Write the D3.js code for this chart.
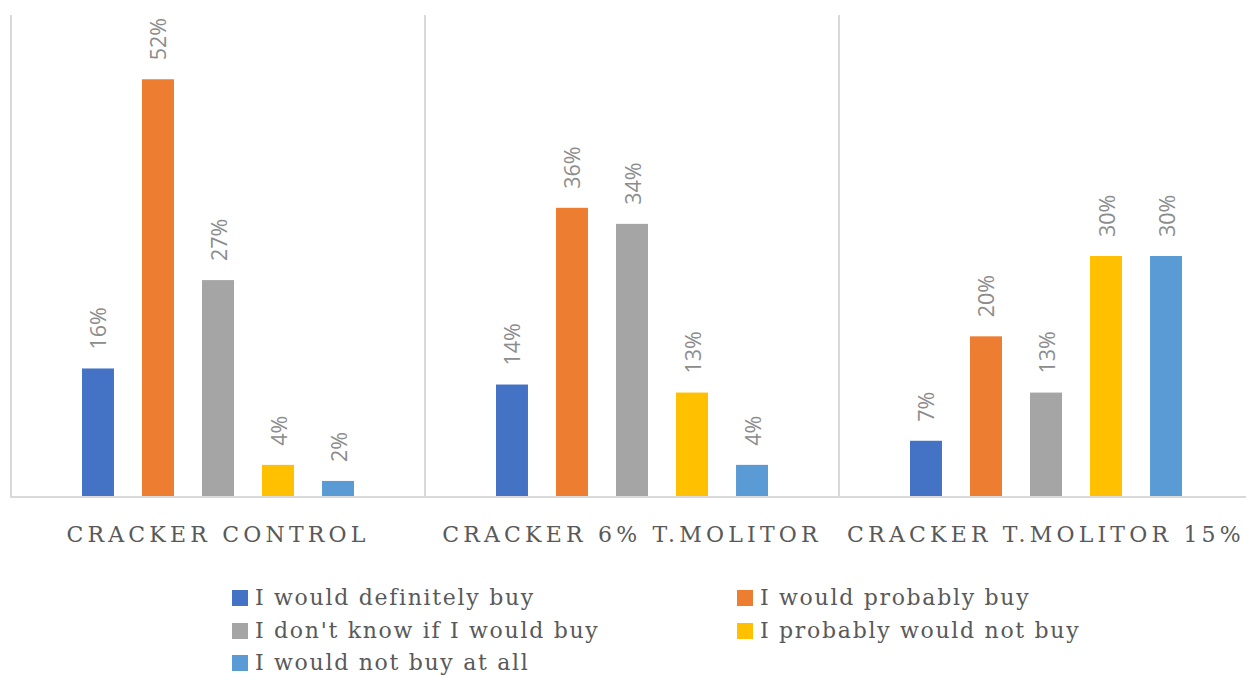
<!DOCTYPE html>
<html>
<head>
<meta charset="utf-8">
<script src="https://cdn.jsdelivr.net/npm/d3@7"></script>
<style>
  html, body { margin: 0; padding: 0; background: #fff; }
  svg { display: block; }
</style>
</head>
<body>
<svg id="chart" width="1246" height="678"></svg>
<script>
// Purchase intention by cracker formulation (% of respondents)
const categories = ["CRACKER CONTROL", "CRACKER 6% T.MOLITOR", "CRACKER T.MOLITOR 15%"];
const seriesNames = [
  "I would definitely buy",
  "I would probably buy",
  "I don't know if I would buy",
  "I probably would not buy",
  "I would not buy at all"
];
const definitelyBuy   = [16, 14, 7];
const probablyBuy     = [52, 36, 20];
const dontKnow        = [27, 34, 13];
const probablyNotBuy  = [4, 13, 30];
const notBuyAtAll     = [2, 4, 30];
const seriesColors = ["#4472C4", "#ED7D31", "#A5A5A5", "#FFC000", "#5B9BD5"];

const seriesValues = [definitelyBuy, probablyBuy, dontKnow, probablyNotBuy, notBuyAtAll];

const svg = d3.select("#chart");

const plot = { left: 11, right: 1253, top: 15, bottom: 497 };

const x0 = d3.scaleBand()
  .domain(categories)
  .range([plot.left, plot.right])
  .paddingInner(0).paddingOuter(0);

const x1 = d3.scaleBand()
  .domain(seriesNames)
  .range([0, x0.bandwidth()])
  .paddingInner(0.467)
  .paddingOuter(1.183);

const y = d3.scaleLinear().domain([0, 60]).range([plot.bottom, plot.top]);

const color = d3.scaleOrdinal().domain(seriesNames).range(seriesColors);

// group separators
const bounds = categories.map(c => x0(c)).concat([x0(categories[categories.length - 1]) + x0.bandwidth()]);
svg.append("g").selectAll("line")
  .data(bounds)
  .join("line")
  .attr("x1", d => d).attr("x2", d => d)
  .attr("y1", plot.top).attr("y2", plot.bottom)
  .attr("stroke", "#d9d9d9").attr("stroke-width", 2);

// baseline
svg.append("line")
  .attr("x1", plot.left - 1).attr("x2", plot.right)
  .attr("y1", plot.bottom).attr("y2", plot.bottom)
  .attr("stroke", "#d9d9d9").attr("stroke-width", 2);

const rows = [];
categories.forEach((c, ci) => {
  seriesNames.forEach((s, si) => {
    rows.push({ cat: c, series: s, value: seriesValues[si][ci] });
  });
});

const bars = svg.append("g");
bars.selectAll("rect")
  .data(rows)
  .join("rect")
  .attr("x", d => x0(d.cat) + x1(d.series))
  .attr("width", x1.bandwidth())
  .attr("y", d => y(d.value))
  .attr("height", d => y(0) - y(d.value) - 1)
  .attr("fill", d => color(d.series));

// rotated value labels
svg.append("g").selectAll("text")
  .data(rows)
  .join("text")
  .attr("transform", d => {
    const cx = x0(d.cat) + x1(d.series) + x1.bandwidth() / 2;
    const cy = y(d.value) - 19;
    return `translate(${cx},${cy}) rotate(-90)`;
  })
  .attr("dominant-baseline", "central")
  .attr("text-anchor", "start")
  .attr("font-family", "'Open Sans', sans-serif")
  .attr("font-size", 21.5)
  .attr("fill", "#8c8c8c")
  .text(d => d.value + "%");

// category axis
const xAxis = d3.axisBottom(x0).tickSize(0).tickPadding(0);
const gx = svg.append("g")
  .attr("transform", `translate(0,${plot.bottom})`)
  .call(xAxis);
gx.select(".domain").remove();
gx.selectAll("text")
  .attr("y", 45)
  .attr("dy", 0)
  .attr("dx", 0)
  .attr("font-family", "'DejaVu Serif', serif")
  .attr("font-size", 22)
  .attr("letter-spacing", 4.2)
  .attr("fill", "#595959");

// legend
const legendPos = [
  { x: 232, y: 605 }, { x: 737, y: 605 },
  { x: 232, y: 638 }, { x: 737, y: 638 },
  { x: 232, y: 670 }
];
const legend = svg.append("g").selectAll("g")
  .data(seriesNames)
  .join("g")
  .attr("transform", (d, i) => `translate(${legendPos[i].x},${legendPos[i].y})`);
legend.append("rect")
  .attr("x", 0).attr("y", -15)
  .attr("width", 16).attr("height", 16)
  .attr("fill", d => color(d));
legend.append("text")
  .attr("x", 23).attr("y", 0)
  .attr("font-family", "'DejaVu Serif', serif")
  .attr("font-size", 22)
  .attr("letter-spacing", 1.7)
  .attr("fill", "#595959")
  .text(d => d);
</script>
</body>
</html>
